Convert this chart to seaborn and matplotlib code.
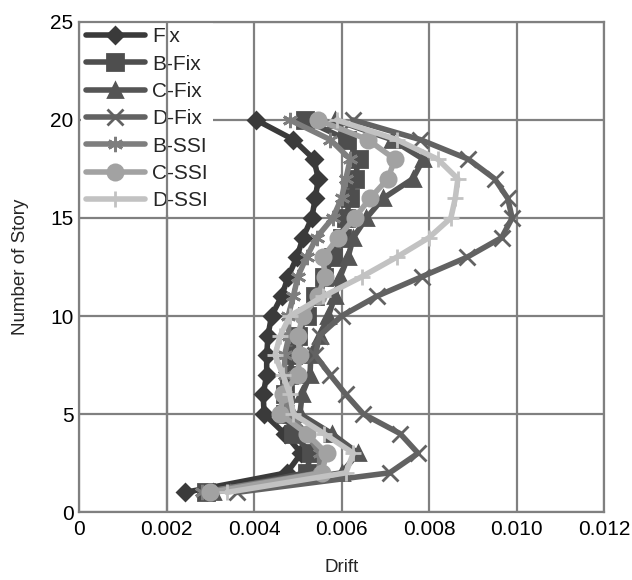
import matplotlib
matplotlib.use("Agg")
import matplotlib.pyplot as plt
import seaborn as sns
import numpy as np
import pandas as pd

sns.set_style("white")
plt.rcParams['font.family'] = ['Liberation Sans', 'DejaVu Sans']

stories = list(range(1, 21))

fix   = [0.00242, 0.00475, 0.00508, 0.00470, 0.00423, 0.00421, 0.00429, 0.00429, 0.00432, 0.00440,
         0.00463, 0.00478, 0.00498, 0.00512, 0.00532, 0.00540, 0.00547, 0.00537, 0.00490, 0.00405]
b_fix = [0.00290, 0.00520, 0.00530, 0.00490, 0.00470, 0.00470, 0.00480, 0.00490, 0.00500, 0.00520,
         0.00540, 0.00560, 0.00580, 0.00600, 0.00610, 0.00620, 0.00630, 0.00640, 0.00612, 0.00517]
c_fix = [0.00306, 0.00600, 0.00638, 0.00578, 0.00505, 0.00510, 0.00528, 0.00530, 0.00550, 0.00570,
         0.00585, 0.00597, 0.00615, 0.00627, 0.00657, 0.00695, 0.00763, 0.00787, 0.00715, 0.00585]
d_fix = [0.00360, 0.00710, 0.00775, 0.00734, 0.00650, 0.00610, 0.00574, 0.00540, 0.00550, 0.00600,
         0.00680, 0.00783, 0.00887, 0.00966, 0.00990, 0.00980, 0.00950, 0.00890, 0.00780, 0.00626]
b_ssi = [0.00280, 0.00550, 0.00550, 0.00520, 0.00480, 0.00470, 0.00470, 0.00470, 0.00480, 0.00478,
         0.00490, 0.00500, 0.00520, 0.00543, 0.00580, 0.00600, 0.00610, 0.00620, 0.00574, 0.00482]
c_ssi = [0.00300, 0.00555, 0.00566, 0.00520, 0.00460, 0.00466, 0.00500, 0.00505, 0.00500, 0.00512,
         0.00546, 0.00562, 0.00558, 0.00592, 0.00630, 0.00665, 0.00706, 0.00722, 0.00660, 0.00546]
d_ssi = [0.00338, 0.00610, 0.00627, 0.00560, 0.00490, 0.00482, 0.00466, 0.00448, 0.00460, 0.00482,
         0.00558, 0.00646, 0.00726, 0.00800, 0.00850, 0.00860, 0.00866, 0.00820, 0.00726, 0.00589]

series_names = ["Fix", "B-Fix", "C-Fix", "D-Fix", "B-SSI", "C-SSI", "D-SSI"]
series_vals = [fix, b_fix, c_fix, d_fix, b_ssi, c_ssi, d_ssi]
colors = ["#3a3a3a", "#4e4e4e", "#555555", "#626262", "#7e7e7e", "#a2a2a2", "#c2c2c2"]
markers = ["D", "s", "^", "x", (6, 2, 0), "o", "+"]
msizes = [8, 11, 10, 11, 11, 11, 12]

x_ticks = [0, 0.002, 0.004, 0.006, 0.008, 0.010, 0.012]
x_tick_labels = ["0", "0.002", "0.004", "0.006", "0.008", "0.010", "0.012"]
y_ticks = [0, 5, 10, 15, 20, 25]

fig = plt.figure(figsize=(6.32, 5.8), dpi=100)
ax = fig.add_axes([0.125, 0.1172, 0.8307, 0.8449])

grid_c = "#808080"
for name, vals, c, m, ms in zip(series_names, series_vals, colors, markers, msizes):
    df = pd.DataFrame({"drift": vals, "story": stories})
    sns.lineplot(data=df, x="drift", y="story", sort=False, estimator=None,
                 color=c, marker=m, markersize=ms, markeredgecolor=c,
                 markeredgewidth=2.0, linewidth=4.0, label=name, ax=ax, zorder=3)

ax.set_xlim(0, 0.012)
ax.set_ylim(0, 25)
ax.set_xticks(x_ticks)
ax.set_xticklabels(x_tick_labels)
ax.set_yticks(y_ticks)
ax.grid(True, color=grid_c, linewidth=1.6, zorder=0)
ax.set_axisbelow(True)
for s in ax.spines.values():
    s.set_color(grid_c)
    s.set_linewidth(1.6)
    s.set_zorder(6)
ax.tick_params(length=0, labelsize=15, pad=6, colors="black")
ax.tick_params(axis="y", pad=4)
ax.set_xlabel("Drift", fontsize=13.5, labelpad=14)
ax.set_ylabel("Number of Story", fontsize=13.5, labelpad=15)

leg = ax.legend(loc="upper left", bbox_to_anchor=(0.004, 1.0), frameon=True,
                fontsize=15, handlelength=2.8, handletextpad=0.35, labelspacing=0.4,
                borderpad=0.25, borderaxespad=0.0, fancybox=False)
leg.get_frame().set_facecolor("white")
leg.get_frame().set_edgecolor("none")
leg.get_frame().set_alpha(1)
leg.set_zorder(5)
# the vertical grid line shows through the legend in the reference
ax.axvline(0.002, color=grid_c, linewidth=1.6, zorder=5.5)

fig.savefig("out.png", dpi=100)
